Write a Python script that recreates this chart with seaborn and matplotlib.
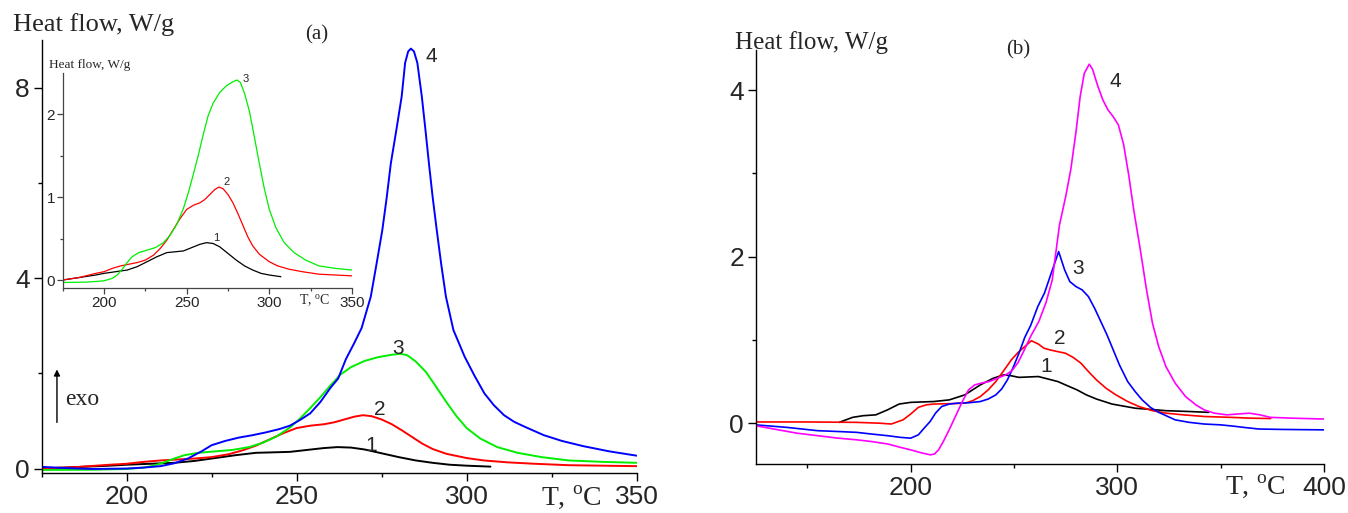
import matplotlib
matplotlib.use("Agg")
import matplotlib.pyplot as plt
import seaborn as sns
from matplotlib.ticker import MultipleLocator

# ---- panel (a): curves 1-3 are also shown in the inset ----
t_a1 = [175, 185, 195, 200, 207, 214, 220, 226, 232, 238, 243, 248, 253, 258, 262,
        266, 270, 275, 280, 285, 290, 295, 300, 307]
hf_a1 = [0.00, 0.03, 0.06, 0.08, 0.10, 0.12, 0.16, 0.22, 0.28, 0.33, 0.34, 0.35, 0.39,
         0.43, 0.45, 0.44, 0.40, 0.32, 0.24, 0.17, 0.12, 0.08, 0.06, 0.04]

t_a2 = [175, 185, 195, 200, 205, 210, 215, 220, 225, 230, 234, 238, 242, 246, 250, 254,
        258, 261, 264, 267, 269.5, 272, 275, 278, 281, 284, 287, 290, 294, 300, 305, 312,
        320, 330, 340, 350]
hf_a2 = [0.00, 0.03, 0.08, 0.10, 0.14, 0.17, 0.19, 0.21, 0.24, 0.30, 0.38, 0.48, 0.61,
         0.74, 0.85, 0.90, 0.93, 0.97, 1.03, 1.09, 1.12, 1.10, 1.03, 0.93, 0.80, 0.66,
         0.52, 0.41, 0.31, 0.22, 0.17, 0.13, 0.10, 0.07, 0.06, 0.05]

t_a3 = [175, 190, 200, 205, 208, 211, 214, 217, 221, 226, 231, 236, 240, 244, 248, 251,
        254, 257, 260, 263, 266, 270, 274, 278, 280.5, 282.5, 285, 288, 291, 294, 297,
        300, 304, 309, 315, 322, 330, 340, 350]
hf_a3 = [-0.03, -0.025, -0.01, 0.02, 0.06, 0.13, 0.21, 0.28, 0.33, 0.36, 0.39, 0.45,
         0.54, 0.67, 0.86, 1.05, 1.27, 1.50, 1.75, 1.98, 2.13, 2.26, 2.34, 2.39, 2.41,
         2.38, 2.25, 2.03, 1.72, 1.40, 1.10, 0.85, 0.63, 0.45, 0.33, 0.24, 0.17, 0.14,
         0.12]

t_a4 = [175, 182, 190, 200, 205, 210, 214, 218, 222, 225, 229, 233, 237, 241, 245, 248,
        251, 254, 257, 260, 262.2, 264.5, 266.9, 269.1, 271.8, 273.5, 275.2, 276.5, 277.7,
        279.3, 280.9, 281.9, 282.8, 283.6, 284.5, 285.5, 286.8, 287.9, 288.9, 290, 291.2,
        292.5, 293.9, 296.1, 299.4, 302.3, 305.2, 308, 311, 314, 317, 322.7, 328, 334.3,
        342, 350]
hf_a4 = [0.035, 0.01, -0.01, 0.0, 0.02, 0.05, 0.11, 0.21, 0.36, 0.49, 0.58, 0.65, 0.70,
         0.76, 0.83, 0.90, 1.02, 1.16, 1.40, 1.70, 1.89, 2.30, 2.63, 2.95, 3.61, 4.30,
         5.01, 5.70, 6.41, 7.10, 7.82, 8.52, 8.76, 8.82, 8.76, 8.52, 7.82, 7.10, 6.41,
         5.70, 5.01, 4.30, 3.61, 2.91, 2.35, 1.95, 1.58, 1.33, 1.12, 0.98, 0.88, 0.70,
         0.58, 0.47, 0.36, 0.27]

# ---- panel (b) ----
t_b1 = [165.4, 171.9, 177, 183.1, 188.8, 194.4, 200, 211.2, 218.7, 226.2, 233.7, 240,
        245, 248.5, 252.4, 257, 261.8, 266.5, 271.2, 275.8, 280.5, 285, 289.9, 297.4,
        308.6, 323.6, 335, 344.2]
hf_b1 = [0.01, 0.07, 0.09, 0.10, 0.16, 0.23, 0.25, 0.26, 0.28, 0.34, 0.46, 0.54, 0.58,
         0.57, 0.55, 0.555, 0.56, 0.53, 0.50, 0.45, 0.40, 0.34, 0.29, 0.23, 0.18, 0.15,
         0.14, 0.13]

t_b2 = [125, 150, 173.8, 185, 190.6, 196.3, 200, 203.7, 207.5, 211.2, 220, 226.2, 230,
        233.7, 237.5, 241.2, 245, 248.7, 252, 255.2, 258.4, 261.8, 264.5, 267.4, 271,
        274.9, 278.6, 282.4, 286, 289.9, 294.5, 299.3, 305, 310.5, 317, 323.6, 332,
        342.3, 355, 365, 374.2]
hf_b2 = [0.015, 0.015, 0.01, 0.0, -0.01, 0.04, 0.11, 0.19, 0.22, 0.23, 0.235, 0.24,
         0.27, 0.32, 0.40, 0.50, 0.63, 0.76, 0.85, 0.92, 0.99, 0.95, 0.90, 0.88, 0.86,
         0.84, 0.79, 0.72, 0.62, 0.52, 0.42, 0.34, 0.26, 0.20, 0.15, 0.12, 0.10, 0.08,
         0.07, 0.06, 0.056]

t_b3 = [125, 140, 155, 165, 173.8, 181, 188.8, 195, 200, 203.7, 206.5, 209.4, 212, 215,
        218.7, 222.5, 228, 233.7, 237.5, 241.2, 244, 246.8, 249.6, 252.4, 255.2, 258,
        261.5, 264.7, 268, 271.6, 274.5, 277, 280, 283, 286, 289, 292, 295, 298, 301,
        305, 308.6, 312, 316, 320, 323.6, 328, 334.8, 342, 350, 356, 361, 368.5, 380, 400]
hf_b3 = [-0.02, -0.05, -0.09, -0.10, -0.11, -0.13, -0.15, -0.17, -0.18, -0.14, -0.06,
         0.02, 0.12, 0.20, 0.23, 0.24, 0.245, 0.26, 0.29, 0.34, 0.41, 0.52, 0.67, 0.84,
         1.03, 1.17, 1.40, 1.56, 1.80, 2.06, 1.84, 1.70, 1.64, 1.60, 1.52, 1.38, 1.22,
         1.06, 0.88, 0.70, 0.50, 0.38, 0.28, 0.19, 0.13, 0.09, 0.04, 0.01, -0.01, -0.02,
         -0.035, -0.05, -0.07, -0.075, -0.08]

t_b4 = [125, 136, 145, 155, 165, 174, 181, 189, 195, 200, 205, 209.5, 211.5, 213.5, 216,
        219, 222, 225, 228, 231, 234, 238, 242, 246, 249, 252, 255, 258, 262, 265.5,
        268.5, 272, 275, 277.5, 280, 282, 284, 286.4, 288, 290.5, 293, 295.5, 298, 300.5,
        303, 305.5, 308, 311, 314, 317, 320, 323.5, 328, 333, 338, 342, 347, 353, 358,
        364, 369, 374, 385, 400]
hf_b4 = [-0.03, -0.08, -0.12, -0.15, -0.18, -0.20, -0.22, -0.25, -0.29, -0.32, -0.355,
         -0.38, -0.37, -0.32, -0.21, -0.06, 0.10, 0.26, 0.40, 0.46, 0.48, 0.50, 0.54,
         0.58, 0.63, 0.73, 0.88, 1.04, 1.22, 1.45, 1.72, 2.38, 2.72, 3.05, 3.50, 3.92,
         4.20, 4.31, 4.25, 4.05, 3.88, 3.76, 3.68, 3.58, 3.35, 2.98, 2.55, 2.10, 1.62,
         1.20, 0.92, 0.68, 0.48, 0.32, 0.22, 0.16, 0.12, 0.10, 0.11, 0.12, 0.10, 0.07,
         0.06, 0.05]

colors_a = ["black", "#ff0000", "#00ee00", "#0000ff"]
colors_b = ["black", "#ff0000", "#0000ff", "#ff00ff"]
curve_labels = ["1", "2", "3", "4"]

sns.set_style("ticks")
plt.rcParams["font.family"] = ["Liberation Sans", "DejaVu Sans"]
plt.rcParams["mathtext.fontset"] = "custom"
plt.rcParams["mathtext.rm"] = "Liberation Serif"
SERIF = ["Liberation Serif", "DejaVu Serif"]
SANS = ["Liberation Sans", "DejaVu Sans"]

fig = plt.figure(figsize=(13.48, 5.13), dpi=100)
ax_a = fig.add_axes([0.0309, 0.0774, 0.4414, 0.8446])
ax_in = fig.add_axes([0.0465, 0.438, 0.2146, 0.419])
ax_b = fig.add_axes([0.5606, 0.0955, 0.4216, 0.807])


def style_axes(ax, size, pad, lw=1.0, color="black"):
    for side in ["top", "right"]:
        ax.spines[side].set_visible(False)
    for side in ["left", "bottom"]:
        ax.spines[side].set_linewidth(lw)
        ax.spines[side].set_color(color)
    ax.set_facecolor("none")
    ax.tick_params(which="major", direction="out", length=6, width=lw, color=color,
                   labelsize=size, labelfontfamily=SANS, pad=pad)
    ax.tick_params(which="minor", direction="out", length=3, width=lw, color=color)
    ax.set_xlabel("")
    ax.set_ylabel("")


# panel (a), main curves
for t, hf, c in zip([t_a1, t_a2, t_a3, t_a4], [hf_a1, hf_a2, hf_a3, hf_a4], colors_a):
    sns.lineplot(x=t, y=hf, sort=False, estimator=None, color=c, linewidth=1.4, ax=ax_a)
ax_a.set_xlim(175, 350)
ax_a.set_ylim(-0.1, 9.0)
ax_a.xaxis.set_major_locator(MultipleLocator(50))
ax_a.xaxis.set_minor_locator(MultipleLocator(25))
ax_a.yaxis.set_major_locator(MultipleLocator(4))
ax_a.yaxis.set_minor_locator(MultipleLocator(2))
style_axes(ax_a, 19, 2.5)

for (x, y), lab in zip([(272, 0.49), (274.5, 1.23), (279.7, 2.53), (289.7, 8.65)],
                       curve_labels):
    ax_a.text(x, y, lab, fontsize=15, ha="center", va="center")
ax_a.annotate("", xy=(179.5, 2.14), xytext=(179.5, 0.91),
              arrowprops=dict(arrowstyle="-|>", color="black", lw=1.0, mutation_scale=9))
ax_a.text(182, 1.44, "exo", fontsize=17, family=SERIF, ha="left", va="center")
ax_a.annotate(r"T, $^{\rm o}$C", xy=(322, 0), xycoords=ax_a.get_xaxis_transform(),
              xytext=(0, -17), textcoords="offset points", fontsize=20, family=SERIF,
              ha="left", va="center")

# inset of panel (a)
for t, hf, c in zip([t_a1, t_a2, t_a3], [hf_a1, hf_a2, hf_a3], colors_a[:3]):
    sns.lineplot(x=t, y=hf, sort=False, estimator=None, color=c, linewidth=0.9, ax=ax_in)
ax_in.set_xlim(175, 350)
ax_in.set_ylim(-0.1, 2.49)
ax_in.xaxis.set_major_locator(MultipleLocator(50))
ax_in.xaxis.set_minor_locator(MultipleLocator(25))
ax_in.yaxis.set_major_locator(MultipleLocator(1))
ax_in.yaxis.set_minor_locator(MultipleLocator(0.5))
style_axes(ax_in, 11, 1.5, lw=0.9, color="#444444")
ax_in.tick_params(which="major", length=4)
ax_in.tick_params(which="minor", length=2.5)
for (x, y), lab in zip([(268, 0.51), (274, 1.18), (286, 2.42)], curve_labels[:3]):
    ax_in.text(x, y, lab, fontsize=8, ha="center", va="center")
ax_in.annotate(r"T, $^{\rm o}$C", xy=(318, 0), xycoords=ax_in.get_xaxis_transform(),
               xytext=(0, -9), textcoords="offset points", fontsize=10, family=SERIF,
               ha="left", va="center")
fig.text(49 / 1348, 1 - 65 / 513, "Heat flow, W/g", fontsize=9.5, family=SERIF,
         ha="left", va="center")

# panel (b)
for t, hf, c in zip([t_b1, t_b2, t_b3, t_b4], [hf_b1, hf_b2, hf_b3, hf_b4], colors_b):
    sns.lineplot(x=t, y=hf, sort=False, estimator=None, color=c, linewidth=1.2, ax=ax_b)
ax_b.set_xlim(125, 400)
ax_b.set_ylim(-0.49, 4.48)
ax_b.xaxis.set_major_locator(MultipleLocator(100))
ax_b.xaxis.set_minor_locator(MultipleLocator(50))
ax_b.yaxis.set_major_locator(MultipleLocator(2))
ax_b.yaxis.set_minor_locator(MultipleLocator(1))
style_axes(ax_b, 19, 2.5)
for (x, y), lab in zip([(265.5, 0.68), (272, 1.02), (281, 1.86), (298.8, 4.1)],
                       curve_labels):
    ax_b.text(x, y, lab, fontsize=15, ha="center", va="center")
ax_b.annotate(r"T, $^{\rm o}$C", xy=(352, 0), xycoords=ax_b.get_xaxis_transform(),
              xytext=(0, -16), textcoords="offset points", fontsize=20, family=SERIF,
              ha="left", va="center")

# headers
fig.text(13 / 1348, 1 - 25 / 513, "Heat flow, W/g", fontsize=19, family=SERIF,
         ha="left", va="center")
fig.text(317 / 1348, 1 - 35 / 513, "(a)", fontsize=15, family=SERIF,
         ha="center", va="center")
fig.text(735 / 1348, 1 - 43 / 513, "Heat flow, W/g", fontsize=18, family=SERIF,
         ha="left", va="center")
fig.text(1018 / 1348, 1 - 50 / 513, "(b)", fontsize=15, family=SERIF,
         ha="center", va="center")

fig.savefig("out.png", dpi=100)
